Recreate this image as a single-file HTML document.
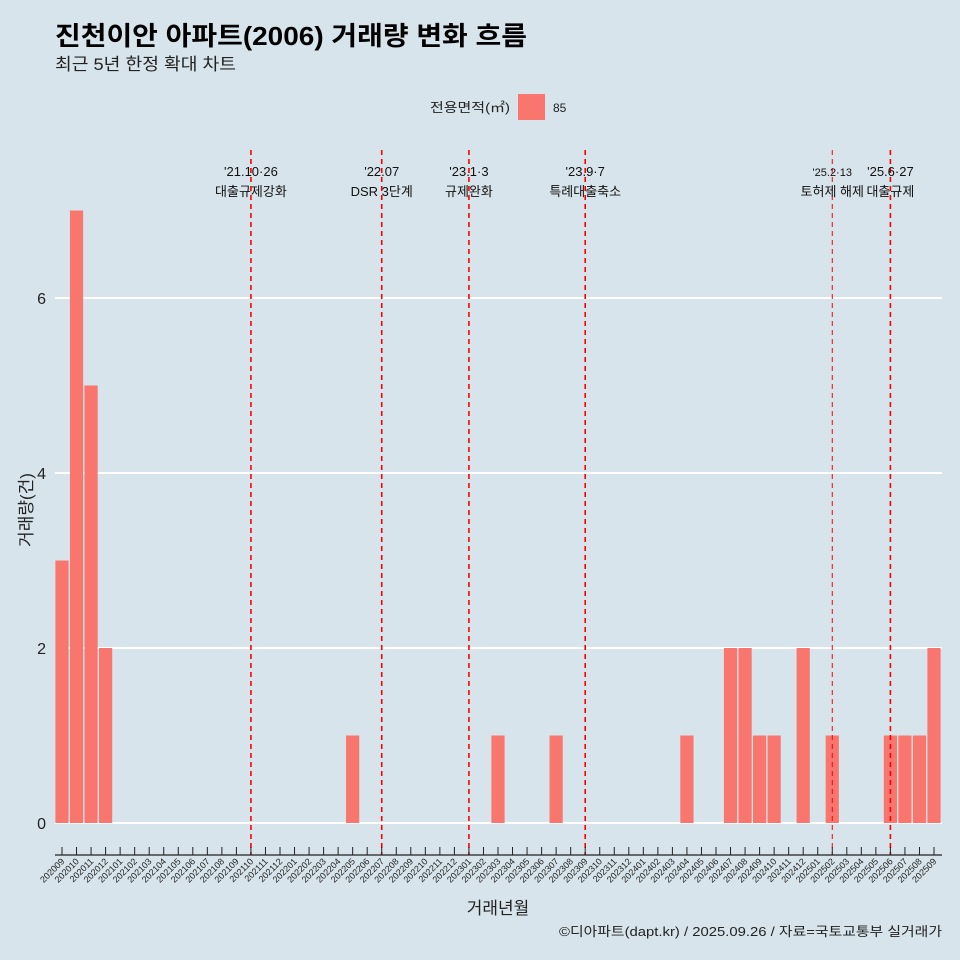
<!DOCTYPE html>
<html><head><meta charset="utf-8"><style>
body{margin:0;background:#d7e4eb;}
svg{display:block;font-family:"Liberation Sans","Noto Sans CJK KR",sans-serif;}
</style></head><body>
<svg id="c" width="960" height="960" viewBox="0 0 960 960">
<rect width="960" height="960" fill="#d7e4eb"/>
<text x="55" y="45" font-size="26" font-weight="bold" fill="#000" textLength="472" lengthAdjust="spacingAndGlyphs">진천이안 아파트(2006) 거래량 변화 흐름</text>
<text x="55" y="70" font-size="17" fill="#222" textLength="181" lengthAdjust="spacingAndGlyphs">최근 5년 한정 확대 차트</text>
<text x="510" y="112" font-size="13" text-anchor="end" fill="#222" textLength="80" lengthAdjust="spacingAndGlyphs">전용면적(㎡)</text>
<rect x="518" y="94" width="27" height="26" fill="#f8766d"/>
<text x="553" y="112" font-size="12" fill="#222">85</text>
<g id="grid"></g><g id="bars"></g><g id="events"></g><g id="xaxis"></g>
<text x="32" y="510" font-size="17" fill="#222" text-anchor="middle" transform="rotate(-90 32 510)">거래량(건)</text>
<text x="498" y="914" font-size="17" fill="#222" text-anchor="middle">거래년월</text>
<text x="559" y="936" font-size="13" fill="#222" textLength="383" lengthAdjust="spacingAndGlyphs">©디아파트(dapt.kr) / 2025.09.26 / 자료=국토교통부 실거래가</text>
</svg>
<script>
const months=[];for(let y=2020,m=9;y<2025||(y===2025&&m<=9);){months.push(y+String(m).padStart(2,'0'));m++;if(m>12){m=1;y++;}}
const barMonths=["202009","202010","202011","202012","202205","202303","202307","202404","202407","202408","202409","202410","202412","202502","202506","202507","202508","202509"];
const barValues=[3,7,5,2,1,1,1,1,2,2,1,1,2,1,1,1,1,2];
const yTicks=[0,2,4,6];
const eventMonths=["202110","202207","202301","202309","202502","202506"];
const eventDates=["'21.10·26","'22.07","'23.1·3","'23.9·7","'25.2·13","'25.6·27"];
const eventNames=["대출규제강화","DSR 3단계","규제완화","특례대출축소","토허제 해제","대출규제"];
const NS="http://www.w3.org/2000/svg";
const x=m=>62+months.indexOf(m)*(872/60);
const y=v=>823-v*87.5;
function mk(p,t,a){const e=document.createElementNS(NS,t);for(const k in a)e.setAttribute(k,a[k]);document.getElementById(p).appendChild(e);return e;}
yTicks.forEach(v=>{
 const l=mk('grid','line',{x1:55,x2:942,y1:y(v),y2:y(v),stroke:'#fff','stroke-width':2});
 
 
 const t=mk('grid','text',{x:46,y:y(v)+6,'font-size':16,'text-anchor':'end',fill:'#222'});t.textContent=v;
 
 
});
barMonths.forEach((m,i)=>{
 const r=mk('bars','rect',{x:x(m)-6.6,y:y(barValues[i]),width:13.2,height:barValues[i]*87.5,fill:'#f8766d'});
 
 
});
eventMonths.forEach((m,i)=>{
 const thin=i===4;
 const l=mk('events','line',{x1:x(m),x2:x(m),y1:150,y2:855,stroke:'#ff0000','stroke-width':thin?1:1.6,'stroke-dasharray':'5,4'});
 
 
 const t1=mk('events','text',{x:x(m),y:176,'font-size':thin?11:13,'text-anchor':'middle',fill:'#111'});t1.textContent=eventDates[i];
 
 
 const t2=mk('events','text',{x:x(m),y:196,'font-size':13,'text-anchor':'middle',fill:'#111'});t2.textContent=eventNames[i];
 
 
});
const ax=mk('xaxis','line',{x1:55,x2:942,y1:855,y2:855,stroke:'#222','stroke-width':1.2});


months.forEach(m=>{
 const tk=mk('xaxis','line',{x1:x(m),x2:x(m),y1:847,y2:855,stroke:'#222','stroke-width':1});
 
 
 const t=mk('xaxis','text',{x:x(m)+3,y:862,'font-size':9,'text-anchor':'end',fill:'#222',transform:`rotate(-45 ${x(m)+3} 862)`});t.textContent=m;
 
 
});
</script>
</body></html>
